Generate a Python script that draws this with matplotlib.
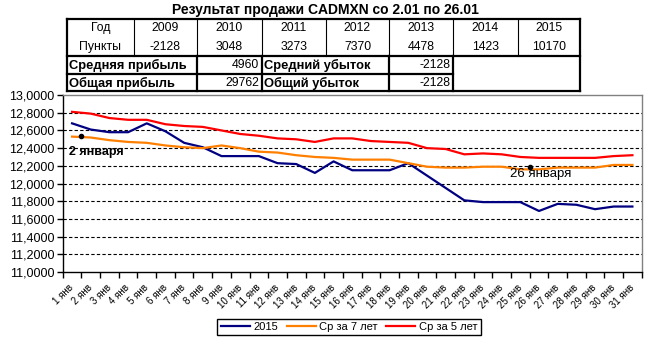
import matplotlib.pyplot as plt
import numpy as np
from matplotlib.ticker import FuncFormatter, MultipleLocator

plt.rcParams['font.family'] = ['Liberation Sans', 'DejaVu Sans']

# --- data ---
days = [f"{d} янв" for d in range(1, 32)]

y2015 = [12.68, 12.61, 12.58, 12.58, 12.68, 12.59, 12.46, 12.41, 12.31, 12.31,
         12.31, 12.23, 12.22, 12.12, 12.25, 12.15, 12.15, 12.15, 12.23, 12.09,
         11.95, 11.81, 11.79, 11.79, 11.79, 11.69, 11.77, 11.76, 11.71, 11.74,
         11.74]
avg7 = [12.53, 12.52, 12.49, 12.47, 12.46, 12.43, 12.41, 12.40, 12.43, 12.40,
        12.36, 12.35, 12.32, 12.30, 12.29, 12.27, 12.27, 12.27, 12.23, 12.19,
        12.18, 12.18, 12.19, 12.19, 12.16, 12.16, 12.18, 12.18, 12.18, 12.21,
        12.21]
avg5 = [12.81, 12.79, 12.74, 12.72, 12.72, 12.67, 12.65, 12.64, 12.60, 12.56,
        12.54, 12.51, 12.50, 12.47, 12.51, 12.51, 12.48, 12.47, 12.46, 12.40,
        12.39, 12.33, 12.34, 12.33, 12.30, 12.29, 12.29, 12.29, 12.29, 12.31,
        12.32]

note_x = [0.5, 24.5]
note_y = [12.54, 12.19]
note_text = ["2 января", "26 января"]

title = "Результат продажи CADMXN со 2.01 по 26.01"
years = ["2009", "2010", "2011", "2012", "2013", "2014", "2015"]
points = ["-2128", "3048", "3273", "7370", "4478", "1423", "10170"]
avg_profit, avg_loss = "4960", "-2128"
total_profit, total_loss = "29762", "-2128"

# --- figure ---
fig = plt.figure(figsize=(6.5, 3.41), dpi=100)
ax = fig.add_axes([0.0965, 0.2023, 0.8908, 0.519])

x = np.arange(len(days))
ax.plot(x, y2015, color='#000080', lw=1.6, label='2015')
ax.plot(x, avg7, color='#ff7f00', lw=1.6, label='Ср за 7 лет')
ax.plot(x, avg5, color='#ff0000', lw=1.6, label='Ср за 5 лет')

ax.set_xlim(-0.5, len(days) - 0.5)
ax.set_ylim(11, 13)
ax.hlines(np.arange(11.2, 12.9, 0.2), -0.5, len(days) - 0.5, colors='black',
          linestyles=(0, (3, 2)), lw=0.8, zorder=0)

ax.yaxis.set_major_locator(MultipleLocator(0.2))
ax.yaxis.set_major_formatter(FuncFormatter(lambda v, p: f"{v:.4f}".replace('.', ',')))
ax.tick_params(axis='y', direction='out', length=4, width=1, labelsize=9, pad=2)

ax.set_xticks(x)
ax.set_xticklabels(days, rotation=45, ha='right', va='center',
                   rotation_mode='anchor', fontsize=7)
ax.set_xticks(np.arange(-0.5, len(days), 1), minor=True)
ax.tick_params(axis='x', which='major', length=0, pad=10)
ax.tick_params(axis='x', which='minor', direction='out', length=4, width=1)

for s in ['left', 'bottom']:
    ax.spines[s].set_color('black')
    ax.spines[s].set_linewidth(1)
for s in ['top', 'right']:
    ax.spines[s].set_color('#808080')
    ax.spines[s].set_linewidth(1)

# annotations
ax.plot(note_x, note_y, 'o', color='black', ms=3, zorder=5)
ax.annotate(note_text[0], (note_x[0], note_y[0]), xytext=(-8.6, -12),
            textcoords='offset points', ha='left', va='center',
            fontsize=9, fontweight='bold')
ax.annotate(note_text[1], (note_x[1], note_y[1]), xytext=(8, -5.4),
            textcoords='offset points', ha='center', va='center',
            fontsize=9.5)

fig.legend(loc='center', bbox_to_anchor=(0.537, 0.041), ncol=3, fontsize=8,
           frameon=True, fancybox=False, edgecolor='black', framealpha=1,
           handlelength=2.6, handletextpad=0.3, columnspacing=0.8,
           borderpad=0.3)

# --- header table (pixel coordinates) ---
ov = fig.add_axes([0, 0, 1, 1])
ov.set_xlim(0, 650)
ov.set_ylim(341, 0)
ov.axis('off')

ov.text(325, 10, title, ha='center', va='center', fontsize=10, fontweight='bold')

cols = [67, 134, 197, 262, 326, 389, 453, 518, 580]
thin, thick = 0.8, 1.6
for cx in cols[1:-1]:
    ov.plot([cx, cx], [19, 56], color='black', lw=thin)
ov.plot([67, 580], [19, 19], color='black', lw=thick)
ov.plot([67, 580], [56, 56], color='black', lw=thick)
ov.plot([67, 453], [74, 74], color='black', lw=thick)
ov.plot([67, 580], [91, 91], color='black', lw=thick)
ov.plot([67, 67], [19, 91], color='black', lw=thick)
ov.plot([580, 580], [19, 91], color='black', lw=thick)
for cx in [197, 262, 389, 453]:
    ov.plot([cx, cx], [56, 91], color='black', lw=thick)

ov.text((cols[0] + cols[1]) / 2, 28, "Год", ha='center', va='center', fontsize=8.8)
ov.text((cols[0] + cols[1]) / 2, 47, "Пункты", ha='center', va='center', fontsize=8.8)
for i, (yr, pt) in enumerate(zip(years, points)):
    cx = (cols[i + 1] + cols[i + 2]) / 2
    ov.text(cx, 28, yr, ha='center', va='center', fontsize=8.8)
    ov.text(cx, 47, pt, ha='center', va='center', fontsize=8.8)

bold_kw = dict(ha='left', va='center', fontsize=9.3, fontweight='bold')
num_kw = dict(ha='right', va='center', fontsize=8.8)
ov.text(69, 65, "Средняя прибыль", **bold_kw)
ov.text(259, 65, avg_profit, **num_kw)
ov.text(264, 65, "Средний убыток", **bold_kw)
ov.text(450, 65, avg_loss, **num_kw)
ov.text(69, 83, "Общая прибыль", **bold_kw)
ov.text(259, 83, total_profit, **num_kw)
ov.text(264, 83, "Общий убыток", **bold_kw)
ov.text(450, 83, total_loss, **num_kw)

fig.savefig('out.png', dpi=100)
